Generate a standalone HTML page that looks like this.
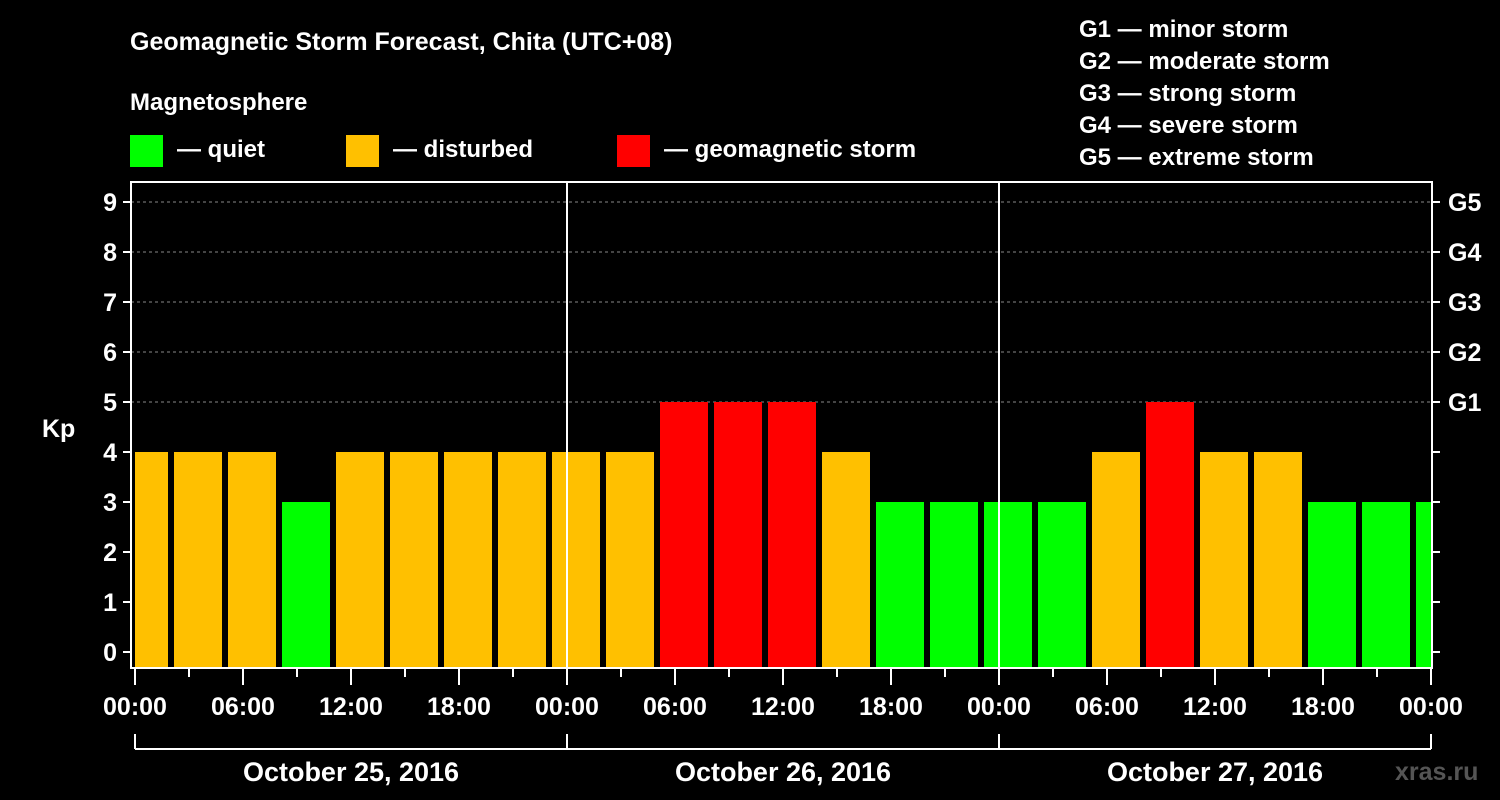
<!DOCTYPE html>
<html><head><meta charset="utf-8"><style>
body{margin:0;background:#000;}
svg{display:block;font-family:"Liberation Sans",sans-serif;font-weight:bold;}
</style></head><body>
<svg id="chart" width="1500" height="800" viewBox="0 0 1500 800">
<rect width="1500" height="800" fill="#000"/>
<text x="130" y="50" fill="#fff" font-size="25">Geomagnetic Storm Forecast, Chita (UTC+08)</text>
<text x="130" y="110" fill="#fff" font-size="24">Magnetosphere</text>
<g><rect x="130" y="135" width="33" height="32" fill="#00ff00"/><text x="177" y="157" fill="#fff" font-size="24">— quiet</text></g>
<g><rect x="346" y="135" width="33" height="32" fill="#ffc000"/><text x="393" y="157" fill="#fff" font-size="24">— disturbed</text></g>
<g><rect x="617" y="135" width="33" height="32" fill="#ff0000"/><text x="664" y="157" fill="#fff" font-size="24">— geomagnetic storm</text></g>
<g fill="#fff" font-size="24">
<text x="1079" y="37">G1 — minor storm</text>
<text x="1079" y="69">G2 — moderate storm</text>
<text x="1079" y="101">G3 — strong storm</text>
<text x="1079" y="133">G4 — severe storm</text>
<text x="1079" y="165">G5 — extreme storm</text>
</g>
<text x="42" y="437" fill="#fff" font-size="25">Kp</text>
<text x="1395" y="780" fill="#555" font-size="25">xras.ru</text>
<g id="plot"></g>
</svg>
<script>
const kpValues = [4,4,4,3,4,4,4,4, 4,4,5,5,5,4,3,3, 3,3,4,5,4,4,3,3, 3];
const yTicks = [0,1,2,3,4,5,6,7,8,9];
const gLabels = ["G1","G2","G3","G4","G5"];
const hourLabels = ["00:00","06:00","12:00","18:00"];
const dayLabels = ["October 25, 2016","October 26, 2016","October 27, 2016"];

const NS="http://www.w3.org/2000/svg";
const plot=document.getElementById('plot');
const L=131,R=1432,T=182,B=668,X0=135,PXH=18;
const yS=v=>652-50*v;
const xS=h=>X0+h*PXH;
function mk(tag,attrs,parent){const e=document.createElementNS(NS,tag);for(const k in attrs)e.setAttribute(k,attrs[k]);(parent||plot).appendChild(e);return e;}
function color(v){return v>=5?"#ff0000":(v>=4?"#ffc000":"#00ff00");}

// grid
for(let v=5;v<=9;v++){const l=mk('line',{x1:L,x2:R,y1:yS(v),y2:yS(v),stroke:'#888','stroke-dasharray':'3,3','stroke-width':1});

}
// bars
const clip=mk('clipPath',{id:'pc'});mk('rect',{x:L+4,y:T,width:R-L-4,height:B-T},clip);
const bg=mk('g',{'clip-path':'url(#pc)'});
kpValues.forEach((v,i)=>{const c=xS(0.5+3*i);const r=mk('rect',{x:c-24,y:yS(v),width:48,height:B-yS(v),fill:color(v)},bg);

});
// day separators
for(let d=1;d<3;d++){const l=mk('line',{x1:xS(24*d),x2:xS(24*d),y1:T,y2:B,stroke:'#fff','stroke-width':2});

}
// border
const br=mk('rect',{x:L,y:T,width:R-L,height:B-T,fill:'none',stroke:'#fff','stroke-width':2});


// y ticks
yTicks.forEach(v=>{const y=yS(v);
mk('line',{x1:L-8,x2:L,y1:y,y2:y,stroke:'#fff','stroke-width':2});
mk('line',{x1:R,x2:R+8,y1:y,y2:y,stroke:'#fff','stroke-width':2});
const t=mk('text',{x:L-14,y:y+9,fill:'#fff','font-size':25,'text-anchor':'end'});t.textContent=v;

});
gLabels.forEach((g,i)=>{const t=mk('text',{x:1448,y:yS(5+i)+9,fill:'#fff','font-size':25});t.textContent=g;

});
// x ticks
for(let h=0;h<=72;h+=3){const major=h%6===0;mk('line',{x1:xS(h),x2:xS(h),y1:B,y2:B+(major?17:9),stroke:'#fff','stroke-width':2});
if(major){const t=mk('text',{x:xS(h),y:715,fill:'#fff','font-size':25,'text-anchor':'middle'});t.textContent=hourLabels[(h/6)%4];

}}
// day bracket
mk('line',{x1:xS(0),x2:xS(72),y1:749,y2:749,stroke:'#fff','stroke-width':2});
for(let d=0;d<=3;d++)mk('line',{x1:xS(24*d),x2:xS(24*d),y1:734,y2:749,stroke:'#fff','stroke-width':2});
dayLabels.forEach((s,d)=>{const t=mk('text',{x:xS(24*d+12),y:781,fill:'#fff','font-size':27,'text-anchor':'middle'});t.textContent=s;

});
</script>
</body></html>
